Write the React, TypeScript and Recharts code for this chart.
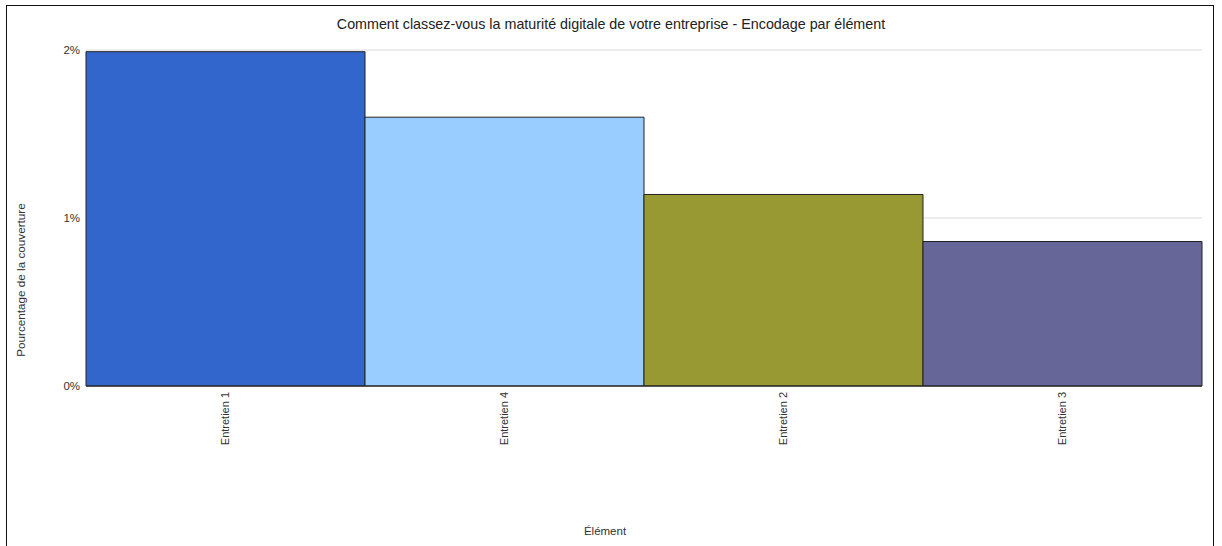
import { BarChart, Bar, XAxis, YAxis, CartesianGrid, Cell } from 'recharts'

// Maturité digitale - couverture par entretien
const CATEGORIES = ['Entretien 1', 'Entretien 4', 'Entretien 2', 'Entretien 3']
const VALUES = [1.99, 1.6, 1.14, 0.86]
const COLORS = ['#3366cc', '#99ccff', '#999933', '#666699']
const Y_TICKS = [0, 1, 2]

const TITLE = 'Comment classez-vous la maturité digitale de votre entreprise - Encodage par élément'
const X_LABEL = 'Élément'
const Y_LABEL = 'Pourcentage de la couverture'

const FONT = '"Liberation Sans", Arial, sans-serif'

const data = CATEGORIES.map((name, i) => ({ name, value: VALUES[i] }))

function RotatedTick(props: any) {
  const { x, y, payload } = props
  return (
    <g transform={`translate(${x},${y - 2}) rotate(-90)`}>
      <text x={0} y={0} dy="0.35em" textAnchor="end" fill="#333" fontSize={11} fontFamily={FONT}>
        {payload.value}
      </text>
    </g>
  )
}

function YLabel() {
  return (
    <text
      x={20}
      y={280}
      transform="rotate(-90 20 280)"
      textAnchor="middle"
      dominantBaseline="central"
      fill="#333"
      fontSize={11.7}
      fontFamily={FONT}
    >
      {Y_LABEL}
    </text>
  )
}

export default function App() {
  return (
    <div style={{ position: 'absolute', left: 0, top: 0, width: 1222, height: 546, overflow: 'hidden', background: '#fff', fontFamily: FONT }}>
      <div style={{ position: 'absolute', left: 6, top: 5, width: 1206, height: 600, border: '1px solid #111' }} />
      <div style={{ position: 'absolute', left: 0, top: 16, width: 1222, textAlign: 'center', fontSize: 14.3, color: '#222' }}>
        {TITLE}
      </div>
      <div style={{ position: 'absolute', left: 0, top: 525, width: 1210, textAlign: 'center', fontSize: 11.5, color: '#333' }}>
        {X_LABEL}
      </div>
      <div style={{ position: 'absolute', left: 0, top: 0 }}>
        <BarChart width={1222} height={546} data={data} margin={{ top: 50, right: 20, left: 0, bottom: 0 }} barCategoryGap={0}>
          <CartesianGrid vertical={false} stroke="#d9d9d9" />
          <XAxis
            dataKey="name"
            height={160}
            interval={0}
            tick={<RotatedTick />}
            tickLine={false}
            axisLine={{ stroke: '#222' }}
          />
          <YAxis
            width={86}
            domain={[0, 2]}
            ticks={Y_TICKS}
            tickFormatter={(v) => `${v}%`}
            tick={{ fill: '#333', fontSize: 11.5, fontFamily: FONT }}
            tickLine={false}
            axisLine={false}
            tickMargin={0}
            label={{ content: <YLabel /> }}
          />
          <Bar dataKey="value" stroke="#222" strokeWidth={1} isAnimationActive={false}>
            {data.map((d, i) => (
              <Cell key={d.name} fill={COLORS[i]} />
            ))}
          </Bar>
        </BarChart>
      </div>
    </div>
  )
}
